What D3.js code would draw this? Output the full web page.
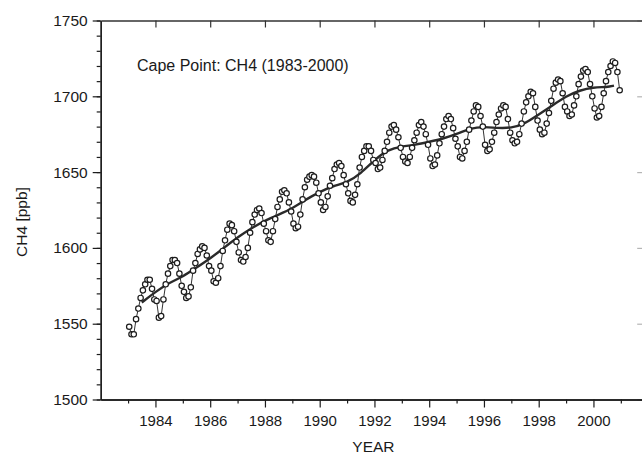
<!DOCTYPE html>
<html>
<head>
<meta charset="utf-8">
<script src="https://cdn.jsdelivr.net/npm/d3@7"></script>
<style>
  body { margin: 0; background: #fff; }
  svg { display: block; }
  text { font-family: "Liberation Sans", Arial, Helvetica, sans-serif; fill: #1a1a1a; }
</style>
</head>
<body>
<div id="chart"></div>
<script>
/**
 * Data.
 */
var years = [1983, 1984, 1985, 1986, 1987, 1988, 1989, 1990, 1991,
             1992, 1993, 1994, 1995, 1996, 1997, 1998, 1999, 2000];

// monthly CH4 (ppb), one row per year, Jan..Dec
var ch4Monthly = [
    1548, 1543, 1543, 1553, 1560, 1567, 1572, 1576, 1579, 1579, 1573, 1566,
    1565, 1554, 1555, 1566, 1576, 1583, 1588, 1592, 1592, 1590, 1583, 1575,
    1571, 1567, 1568, 1574, 1585, 1590, 1596, 1599, 1601, 1600, 1595, 1588,
    1585, 1578, 1577, 1580, 1588, 1598, 1605, 1612, 1616, 1615, 1611, 1604,
    1597, 1592, 1591, 1594, 1600, 1610, 1617, 1622, 1625, 1626, 1623, 1616,
    1611, 1605, 1604, 1611, 1619, 1627, 1632, 1637, 1638, 1636, 1630, 1624,
    1616, 1613, 1614, 1622, 1632, 1640, 1645, 1647, 1648, 1647, 1643, 1636,
    1630, 1625, 1627, 1634, 1641, 1646, 1652, 1655, 1656, 1654, 1648, 1642,
    1636, 1631, 1630, 1635, 1642, 1653, 1660, 1664, 1667, 1667, 1664, 1658,
    1656, 1652, 1653, 1658, 1664, 1670, 1676, 1680, 1681, 1678, 1673, 1666,
    1660, 1657, 1656, 1660, 1666, 1671, 1676, 1681, 1683, 1680, 1675, 1668,
    1659, 1654, 1655, 1661, 1669, 1675, 1680, 1685, 1687, 1685, 1679, 1672,
    1667, 1660, 1659, 1664, 1670, 1678, 1684, 1690, 1694, 1693, 1687, 1680,
    1668, 1664, 1665, 1670, 1676, 1683, 1688, 1692, 1694, 1693, 1685, 1676,
    1671, 1669, 1670, 1675, 1682, 1690, 1696, 1700, 1703, 1702, 1693, 1684,
    1678, 1675, 1676, 1682, 1689, 1697, 1705, 1709, 1711, 1710, 1702, 1693,
    1690, 1687, 1688, 1694, 1700, 1708, 1713, 1717, 1718, 1716, 1708, 1700,
    1692, 1686, 1687, 1693, 1702, 1710, 1716, 1720, 1723, 1722, 1716, 1704
];

// smoothed trend line
var trendYears = [1983.5, 1984, 1984.5, 1985, 1985.5, 1986, 1986.5, 1987, 1987.5,
                  1988, 1988.5, 1989, 1989.5, 1990, 1990.5, 1991, 1991.5, 1992,
                  1992.5, 1993, 1993.5, 1994, 1994.5, 1995, 1995.5, 1996, 1996.5,
                  1997, 1997.5, 1998, 1998.5, 1999, 1999.5, 2000, 2000.5, 2000.75];
var trendValues = [1564, 1571, 1577, 1581, 1587, 1593, 1600, 1607, 1613,
                   1618, 1622, 1626, 1632, 1637, 1641, 1643, 1649, 1658,
                   1665, 1667, 1668, 1670, 1672, 1675, 1679, 1680, 1679,
                   1679, 1682, 1688, 1694, 1700, 1704, 1706, 1706, 1707];

var yTicks = [1500, 1550, 1600, 1650, 1700, 1750];
var yMinorTicks = d3.range(1500, 1751, 10);
var xTicks = [1984, 1986, 1988, 1990, 1992, 1994, 1996, 1998, 2000];
var xMinorTicks = [1983, 1985, 1987, 1989, 1991, 1993, 1995, 1997, 1999, 2001];

var width = 642;
var height = 454;

var margin = {
    top: 20.5,
    left: 100.7,
    bottom: 54.5
};

var points = [];
years.forEach(function (yr, i) {
    for (var m = 0; m < 12; m++) {
        points.push({ t: yr + (m + 0.5) / 12, v: ch4Monthly[i * 12 + m] });
    }
});

var x = d3.scaleLinear()
    .domain([1982, 2002])
    .range([margin.left, 648.2]);

var y = d3.scaleLinear()
    .domain([1500, 1750])
    .range([height - margin.bottom, margin.top]);

var svg = d3.select("#chart").append("svg")
    .attr("width", width)
    .attr("height", height);

var ink = "#1c1c1c";

function styleAxis(g, color) {
    g.selectAll("path").attr("stroke", color).attr("stroke-width", 1.3);
    g.selectAll("line").attr("stroke", color).attr("stroke-width", 1.2);
}

// left axis, minor then major
svg.append("g")
    .attr("transform", `translate(${margin.left},0)`)
    .call(d3.axisLeft(y).tickValues(yMinorTicks).tickSize(4).tickFormat("").tickSizeOuter(0))
    .call(g => styleAxis(g, ink));

svg.append("g")
    .attr("transform", `translate(${margin.left},0)`)
    .call(d3.axisLeft(y).tickValues(yTicks).tickSize(8).tickPadding(5)
        .tickFormat(d3.format("d")).tickSizeOuter(0))
    .call(g => styleAxis(g, ink))
    .call(g => g.selectAll("text")
        .style("font-size", "15.5px")
        .attr("fill", ink));

// right axis (mostly cropped off the scan)
svg.append("g")
    .attr("transform", `translate(${x(2002)},0)`)
    .call(d3.axisLeft(y).tickValues(yTicks).tickSize(11).tickFormat("").tickSizeOuter(0))
    .call(g => styleAxis(g, "#b5b5b5"));

// bottom axis
svg.append("g")
    .attr("transform", `translate(0,${height - margin.bottom})`)
    .call(d3.axisBottom(x).tickValues(xMinorTicks).tickSize(4).tickFormat("").tickSizeOuter(0))
    .call(g => styleAxis(g, ink));

svg.append("g")
    .attr("transform", `translate(0,${height - margin.bottom})`)
    .call(d3.axisBottom(x).tickValues(xTicks).tickSize(8).tickPadding(8)
        .tickFormat(d3.format("d")).tickSizeOuter(0))
    .call(g => styleAxis(g, ink))
    .call(g => g.selectAll("text")
        .style("font-size", "15px")
        .attr("fill", ink));

// top axis, ticks pointing in
svg.append("g")
    .attr("transform", `translate(0,${margin.top})`)
    .call(d3.axisBottom(x).tickValues(xTicks).tickSize(7).tickFormat("").tickSizeOuter(0))
    .call(g => styleAxis(g, "#333"));

// axis titles
svg.append("text")
    .attr("x", x(1992) - 1)
    .attr("y", 452)
    .attr("text-anchor", "middle")
    .style("font-size", "15.5px")
    .text("YEAR");

svg.append("text")
    .attr("transform", "translate(27,222) rotate(-90)")
    .attr("text-anchor", "middle")
    .style("font-size", "15.5px")
    .text("CH4 [ppb]");

svg.append("text")
    .attr("x", 137)
    .attr("y", 71)
    .style("font-size", "16px")
    .text("Cape Point: CH4 (1983-2000)");

// monthly series
var line = d3.line()
    .x(d => x(d.t))
    .y(d => y(d.v));

svg.append("path")
    .datum(points)
    .attr("fill", "none")
    .attr("stroke", ink)
    .attr("stroke-width", 0.9)
    .attr("d", line);

// trend
var trend = trendYears.map((t, i) => ({ t: t, v: trendValues[i] }));
svg.append("path")
    .datum(trend)
    .attr("fill", "none")
    .attr("stroke", "#2a2a2a")
    .attr("stroke-width", 2.4)
    .attr("d", line.curve(d3.curveBasis));

svg.append("g")
    .selectAll("circle")
    .data(points)
    .enter()
    .append("circle")
    .attr("cx", d => x(d.t))
    .attr("cy", d => y(d.v))
    .attr("r", 2.7)
    .attr("fill", "#fff")
    .attr("stroke", ink)
    .attr("stroke-width", 1.2);
</script>
</body>
</html>
